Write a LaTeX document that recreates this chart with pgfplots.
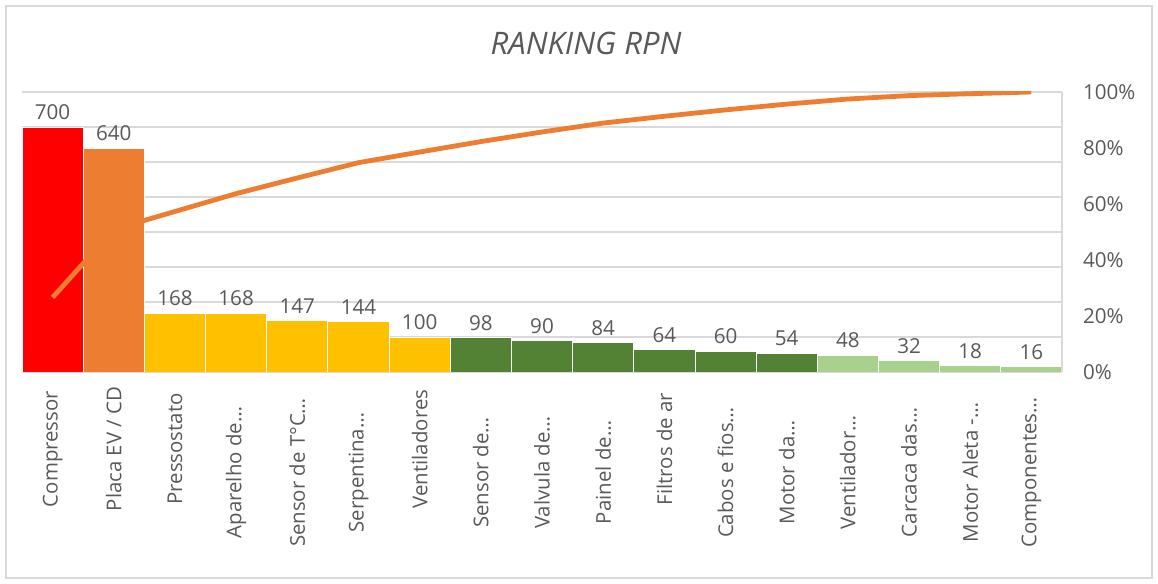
\documentclass[border=0pt]{standalone}
\usepackage{pgfplots}
\pgfplotsset{compat=1.18}
\usepackage{fontspec}
\setmainfont{Open Sans}
\definecolor{gridgray}{HTML}{D9D9D9}
\definecolor{txtgray}{HTML}{595959}
\definecolor{cred}{HTML}{FF0000}
\definecolor{corange}{HTML}{ED7D31}
\definecolor{cgold}{HTML}{FFC000}
\definecolor{cdkgreen}{HTML}{548235}
\definecolor{cltgreen}{HTML}{A9D18E}
\newcommand{\tr}{\hspace*{23.5pt}}
\begin{document}
\begin{tikzpicture}[x=1pt,y=1pt]
\useasboundingbox (0,0) rectangle (579,292);
\draw[gridgray, line width=0.75pt] (3,3) rectangle (576,289);
\node[font=\fontsize{15.5}{18}\selectfont\itshape, text=txtgray, anchor=base] at (293,264.5) {RANKING RPN};
\begin{axis}[
  at={(11pt,106pt)}, anchor=south west,
  scale only axis, width=520pt, height=140pt,
  xmin=-0.5, xmax=16.5, ymin=0, ymax=800,
  ytick={0,100,...,800}, yticklabels={},
  ymajorgrids, grid style={draw=gridgray, line width=0.75pt},
  axis x line*=bottom, axis y line*=left,
  x axis line style={draw=gridgray, line width=0.75pt},
  y axis line style={draw=none},
  major tick length=0,
  xtick={0,...,16},
  xticklabels={Compressor, Placa EV / CD, Pressostato, Aparelho de…\tr, Sensor de T°C…\tr, Serpentina…\tr, Ventiladores, Sensor de…\tr, Valvula de…\tr, Painel de…\tr, Filtros de ar, Cabos e fios…\tr, Motor da…\tr, Ventilador…\tr, Carcaca das…\tr, Motor Aleta -…\tr, Componentes…\tr},
  xticklabel shift=38.5pt,
  xticklabel style={rotate=90, anchor=center, font=\fontsize{10.2}{12}\selectfont, text=txtgray},
  /pgf/number format/assume math mode=true,
  every node near coord/.append style={font=\fontsize{10.3}{12}\selectfont, text=txtgray},
]
\addplot[ybar, bar width=1, bar shift=0pt, fill=cred, draw=white, line width=0.4pt, nodes near coords] coordinates {(0,700)};
\addplot[ybar, bar width=1, bar shift=0pt, fill=corange, draw=white, line width=0.4pt, nodes near coords] coordinates {(1,640)};
\addplot[ybar, bar width=1, bar shift=0pt, fill=cgold, draw=white, line width=0.4pt, nodes near coords] coordinates {(2,168)(3,168)(4,147)(5,144)(6,100)};
\addplot[ybar, bar width=1, bar shift=0pt, fill=cdkgreen, draw=white, line width=0.4pt, nodes near coords] coordinates {(7,98)(8,90)(9,84)(10,64)(11,60)(12,54)};
\addplot[ybar, bar width=1, bar shift=0pt, fill=cltgreen, draw=white, line width=0.4pt, nodes near coords] coordinates {(13,48)(14,32)(15,18)(16,16)};
\end{axis}
\begin{axis}[
  at={(11pt,106pt)}, anchor=south west,
  scale only axis, width=520pt, height=140pt,
  xmin=-0.5, xmax=16.5, ymin=0, ymax=100,
  axis x line=none, axis y line*=right,
  y axis line style={draw=gridgray, line width=0.75pt},
  ytick={0,20,...,100},
  yticklabel={\pgfmathprintnumber{\tick}\%},
  major tick length=0,
  /pgf/number format/assume math mode=true,
  yticklabel style={anchor=west, xshift=7pt, font=\fontsize{10.3}{12}\selectfont, text=txtgray},
]
\addplot[color=corange, line width=2.4pt, mark=none, line join=round] coordinates {
(0,26.61)(1,50.93)(2,57.32)(3,63.70)(4,69.29)(5,74.76)(6,78.56)(7,82.29)(8,85.71)(9,88.90)(10,91.33)(11,93.61)(12,95.67)(13,97.49)(14,98.71)(15,99.39)(16,100)};
\end{axis}
\end{tikzpicture}
\end{document}
